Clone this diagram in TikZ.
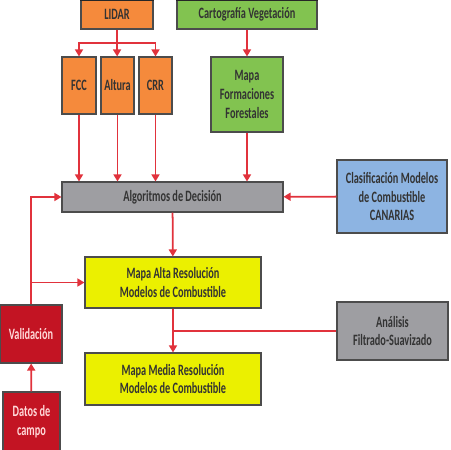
\documentclass[tikz,border=0pt]{standalone}
\usepackage{fontspec}
\setmainfont[FakeStretch=0.65]{Carlito}
\usetikzlibrary{arrows.meta}
\definecolor{lidarorange}{RGB}{245,138,60}
\definecolor{vegegreen}{RGB}{130,195,80}
\definecolor{algogray}{RGB}{158,158,162}
\definecolor{canablue}{RGB}{141,180,226}
\definecolor{mapyellow}{RGB}{235,240,0}
\definecolor{validred}{RGB}{195,20,35}
\definecolor{flowred}{RGB}{225,50,60}
\tikzset{
  box/.style={draw=black!70, line width=0.6pt, align=center, inner sep=1pt,
    font=\bfseries\fontsize{9}{10.8}\selectfont, text=black!80},
  flow/.style={draw=flowred, line width=1pt, -{Triangle[length=4pt,width=4.5pt]}},
  flowline/.style={draw=flowred, line width=1pt}
}
\begin{document}
\begin{tikzpicture}[x=0.2mm, y=-0.2mm]
  \useasboundingbox (0, 0) rectangle (450, 450);
  \node[box, fill=lidarorange, minimum width=14.4mm, minimum height=5.8mm] (lidar) at (117, 14.5) {LIDAR};
  \node[box, fill=vegegreen, minimum width=28mm, minimum height=5.8mm] (carto) at (247, 14.5) {Cartografía Vegetación};
  \draw[black!85, line width=1.6pt] (lidar.north west) -- (lidar.north east);
  \draw[black!85, line width=1.6pt] (carto.north west) -- (carto.north east);
  \node[box, fill=lidarorange, minimum width=6.8mm, minimum height=11.4mm] (fcc) at (79, 85.5) {FCC};
  \node[box, fill=lidarorange, minimum width=6.6mm, minimum height=11.4mm] (altura) at (117.5, 85.5) {Altura};
  \node[box, fill=lidarorange, minimum width=6.6mm, minimum height=11.4mm] (crr) at (155.5, 85.5) {CRR};
  \node[box, fill=vegegreen, minimum width=14.4mm, minimum height=15mm] (forest) at (247, 94.5) {Mapa\\Formaciones\\Forestales};
  \node[box, fill=algogray, minimum width=44.2mm, minimum height=6mm] (algo) at (172.5, 197) {Algoritmos de Decisión};
  \node[box, fill=canablue, minimum width=22mm, minimum height=14.6mm] (canarias) at (392, 196.5) {Clasificación Modelos\\de Combustible\\CANARIAS};
  \node[box, fill=mapyellow, minimum width=35.2mm, minimum height=10.2mm] (alta) at (173, 282.5) {Mapa Alta Resolución\\Modelos de Combustible};
  \node[box, fill=mapyellow, minimum width=35.2mm, minimum height=10.4mm] (media) at (173, 379) {Mapa Media Resolución\\Modelos de Combustible};
  \node[box, fill=algogray, minimum width=22.2mm, minimum height=11.6mm] (filtro) at (392.5, 331) {Análisis\\Filtrado-Suavizado};
  \node[box, fill=validred, text=red!15, minimum width=12.4mm, minimum height=11.6mm] (valid) at (31, 334) {Validación};
  \node[box, fill=validred, text=red!15, minimum width=11.4mm, minimum height=12mm] (datos) at (31.5, 422) {Datos de\\campo};
  \coordinate (lsplit) at (117, 43);
  \draw[flowline] (lidar) -- (lsplit);
  \draw[flow] (lsplit) -| (fcc);
  \draw[flow] (lsplit) -| (crr);
  \draw[flow] (lsplit) -- (altura);
  \draw[flow] (carto) -- (forest);
  \draw[flow] (fcc) -- (fcc.south |- algo.north);
  \draw[flow] (altura) -- (altura.south |- algo.north);
  \draw[flow] (crr) -- (crr.south |- algo.north);
  \draw[flow] (forest) -- (forest.south |- algo.north);
  \draw[flow] (canarias) -- (algo);
  \draw[flow] (algo) -- (alta);
  \draw[flow] (valid) |- (algo);
  \draw[flow] (valid) |- (alta);
  \draw[flow] (datos) -- (valid);
  \draw[flow] (alta) -- (media);
  \draw[flowline] (filtro) -- (filtro.west -| alta.south);
\end{tikzpicture}
\end{document}
